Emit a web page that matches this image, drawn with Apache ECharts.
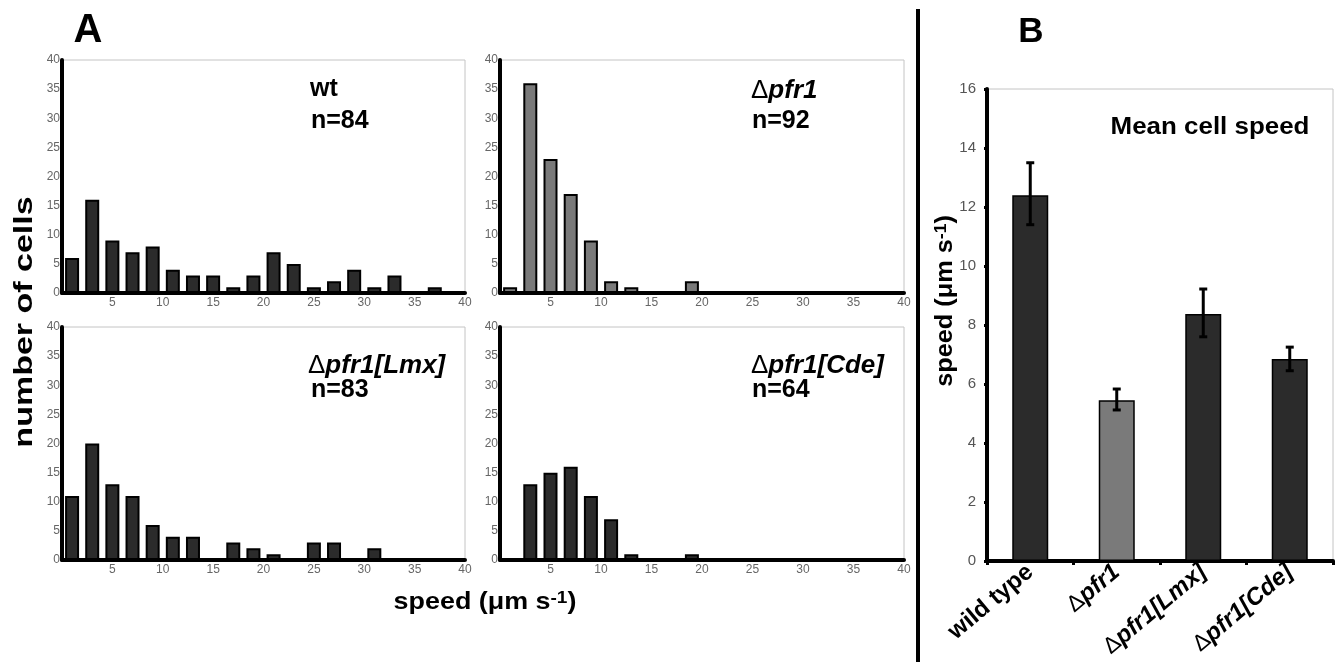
<!DOCTYPE html>
<html>
<head>
<meta charset="utf-8">
<script src="https://cdn.jsdelivr.net/npm/echarts@6/dist/echarts.min.js"></script>
<style>
html,body{margin:0;padding:0;background:#fff;}
#c{width:1338px;height:667px;}
</style>
</head>
<body>
<div id="c"></div>
<script>
// ---- data ----
var binCenters = [1,3,5,7,9,11,13,15,17,19,21,23,25,27,29,31,33,35,37,39];
var wtCounts   = [6,16,9,7,8,4,3,3,1,3,7,5,1,2,4,1,3,0,1,0];
var pfr1Counts = [1,36,23,17,9,2,1,0,0,2,0,0,0,0,0,0,0,0,0,0];
var lmxCounts  = [11,20,13,11,6,4,4,0,3,2,1,0,3,3,0,2,0,0,0,0];
var cdeCounts  = [0,13,15,16,11,7,1,0,0,1,0,0,0,0,0,0,0,0,0,0];
var histTicks  = [0,5,10,15,20,25,30,35,40];

var meanCats   = ['wild type','Δpfr1','Δpfr1[Lmx]','Δpfr1[Cde]'];
var meanVals   = [12.4,5.45,8.37,6.85];
var errLow     = [11.4,5.12,7.6,6.45];
var errHigh    = [13.5,5.83,9.22,7.25];
var meanTicks  = [0,2,4,6,8,10,12,14,16];

var FONT = 'Liberation Sans, Arial, sans-serif';
var DARK = '#2b2b2b';
var GREY = '#7a7a7a';

function pairs(counts){ return binCenters.map(function(c,i){ return [c, counts[i]]; }); }

var grids = [
  {left:62, top:60, width:403, height:233},
  {left:500, top:60, width:404, height:233},
  {left:62, top:327, width:403, height:233},
  {left:500, top:327, width:404, height:233},
  {left:987, top:89, width:346, height:472}
];
grids.forEach(function(g){ g.show = true; g.borderColor = '#c4c4c4'; g.borderWidth = 1; g.backgroundColor = 'rgba(0,0,0,0)'; });

var xAxes = [], yAxes = [], series = [];
var hists = [wtCounts, pfr1Counts, lmxCounts, cdeCounts];
var histColors = [DARK, GREY, DARK, DARK];
for (var i = 0; i < 4; i++) {
  xAxes.push({
    type:'value', gridIndex:i, min:histTicks[0], max:histTicks[histTicks.length-1], interval:histTicks[1]-histTicks[0],
    axisLine:{show:true, onZero:false, lineStyle:{color:'#000', width:4}},
    axisTick:{show:false}, splitLine:{show:false},
    axisLabel:{color:'#666', fontSize:12, fontFamily:FONT, margin:4,
      formatter:function(v){ return v === 0 ? '' : String(v); }}
  });
  yAxes.push({
    type:'value', gridIndex:i, min:0, max:40, interval:5,
    axisLine:{show:true, onZero:false, lineStyle:{color:'#000', width:4}},
    axisTick:{show:false}, splitLine:{show:false},
    axisLabel:{color:'#666', fontSize:12, fontFamily:FONT, margin:2}
  });
  series.push({
    type:'bar', xAxisIndex:i, yAxisIndex:i, data:pairs(hists[i]), barWidth:14,
    itemStyle:{color:histColors[i], borderColor:'#000', borderWidth:2},
    silent:true, animation:false
  });
}

// panel B
xAxes.push({
  type:'category', gridIndex:4, data:meanCats,
  axisLine:{show:true, lineStyle:{color:'#000', width:4}},
  axisTick:{show:true, length:4, lineStyle:{color:'#000', width:3}},
  axisLabel:{rotate:40, interval:0, margin:8, fontSize:24, fontFamily:FONT, color:'#000',
    formatter:function(v){
      if (v.charAt(0) === 'Δ') return '{d|Δ}{b|' + v.slice(1) + '}';
      return '{w|' + v + '}';
    },
    rich:{
      d:{fontSize:23, fontWeight:'normal', fontFamily:FONT, color:'#000'},
      b:{fontSize:24, fontWeight:'bold', fontStyle:'italic', fontFamily:FONT, color:'#000'},
      w:{fontSize:24, fontWeight:'bold', fontFamily:FONT, color:'#000'}
    }
  }
});
yAxes.push({
  type:'value', gridIndex:4, min:meanTicks[0], max:meanTicks[meanTicks.length-1], interval:meanTicks[1]-meanTicks[0],
  axisLine:{show:true, lineStyle:{color:'#000', width:4}},
  axisTick:{show:true, length:3, lineStyle:{color:'#000', width:3}},
  splitLine:{show:false},
  axisLabel:{color:'#555', fontSize:15, fontFamily:FONT, margin:11}
});
series.push({
  type:'bar', xAxisIndex:4, yAxisIndex:4, barWidth:36, silent:true, animation:false, z:2,
  data: meanVals.map(function(v,i){ return {value:v, itemStyle:{color: i === 1 ? GREY : DARK}}; }),
  itemStyle:{borderColor:'#000', borderWidth:1.5}
});
series.push({
  type:'custom', xAxisIndex:4, yAxisIndex:4, silent:true, animation:false, z:10,
  data: meanCats.map(function(c,i){ return [i, errLow[i], errHigh[i]]; }),
  renderItem:function(params, api){
    var lo = api.coord([api.value(0), api.value(1)]);
    var hi = api.coord([api.value(0), api.value(2)]);
    var hw = 4;
    var st = {stroke:'#000', lineWidth:3};
    return {type:'group', children:[
      {type:'line', shape:{x1:lo[0], y1:lo[1], x2:hi[0], y2:hi[1]}, style:st},
      {type:'line', shape:{x1:lo[0]-hw, y1:lo[1], x2:lo[0]+hw, y2:lo[1]}, style:st},
      {type:'line', shape:{x1:hi[0]-hw, y1:hi[1], x2:hi[0]+hw, y2:hi[1]}, style:st}
    ]};
  }
});

function txt(x, y, text, opt){
  var s = Object.assign({text:text, x:x, y:y, fill:'#000', font:'bold 25px ' + FONT, textAlign:'left', textVerticalAlign:'middle'}, opt || {});
  return {type:'text', style:s, silent:true};
}
function deltaLabel(x, y, rest){
  return {type:'text', silent:true, style:{
    x:x, y:y, textAlign:'left', textVerticalAlign:'middle',
    rich:{d:{font:'normal 26px ' + FONT, fill:'#000'}, b:{font:'italic bold 26px ' + FONT, fill:'#000'}},
    text:'{d|Δ}{b|' + rest + '}'
  }};
}

var graphics = [
  txt(88, 31, 'A', {font:'bold 40px ' + FONT, textAlign:'center'}),
  txt(1031, 32, 'B', {font:'bold 35px ' + FONT, textAlign:'center'}),
  {type:'line', silent:true, shape:{x1:918, y1:9, x2:918, y2:662}, style:{stroke:'#000', lineWidth:4}},
  txt(310, 89, 'wt'),
  txt(311, 121, 'n=84'),
  deltaLabel(751, 91, 'pfr1'),
  txt(752, 121, 'n=92'),
  deltaLabel(308, 366, 'pfr1[Lmx]'),
  txt(311, 390, 'n=83'),
  deltaLabel(751, 366, 'pfr1[Cde]'),
  txt(752, 390, 'n=64'),
  {type:'text', silent:true, x:1210, y:127, scaleX:1.08,
    style:{text:'Mean cell speed', font:'bold 24px ' + FONT, fill:'#000', textAlign:'center', textVerticalAlign:'middle'}},
  {type:'text', silent:true, x:25, y:322, rotation:Math.PI/2, scaleX:1.36,
    style:{text:'number of cells', font:'bold 25px ' + FONT, fill:'#000', textAlign:'center', textVerticalAlign:'middle'}},
  {type:'text', silent:true, x:485, y:602, scaleX:1.12, style:{textAlign:'center', textVerticalAlign:'middle',
    rich:{a:{font:'bold 24px ' + FONT, fill:'#000'}, s:{font:'bold 17px ' + FONT, fill:'#000', padding:[0,0,7,0]}},
    text:'{a|speed (μm s}{s|-1}{a|)}'}},
  {type:'text', silent:true, x:946, y:301, rotation:Math.PI/2, scaleX:1.1,
    style:{textAlign:'center', textVerticalAlign:'middle',
      rich:{a:{font:'bold 23px ' + FONT, fill:'#000'}, s:{font:'bold 16px ' + FONT, fill:'#000', padding:[0,0,8,0]}},
      text:'{a|speed (μm s}{s|-1}{a|)}'}}
];

var chart = echarts.init(document.getElementById('c'), null, {renderer:'canvas'});
chart.setOption({
  animation:false,
  backgroundColor:'#fff',
  grid:grids, xAxis:xAxes, yAxis:yAxes, series:series,
  graphic:graphics
});
</script>
</body>
</html>
